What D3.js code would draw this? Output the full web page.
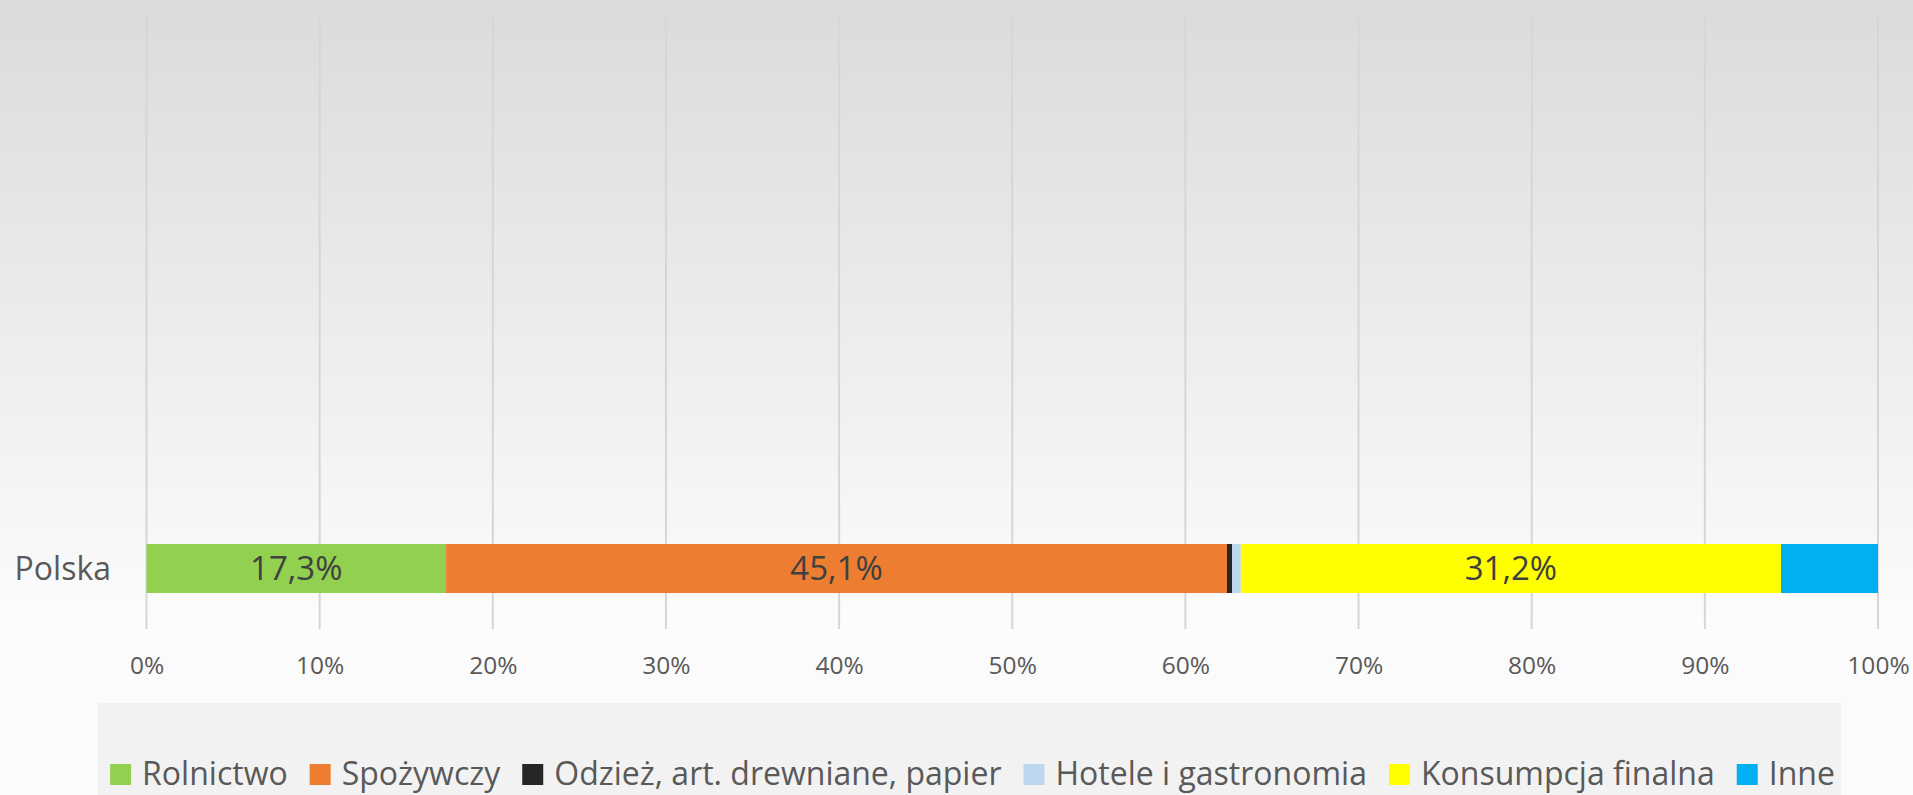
<!DOCTYPE html>
<html><head><meta charset="utf-8">
<script src="https://cdn.jsdelivr.net/npm/d3@7"></script>
<style>html,body{margin:0;padding:0;background:#fcfcfc;overflow:hidden}</style>
</head><body>
<svg id="c" width="1913" height="795"></svg>
<script>
const categories = ["Polska"];
const seriesNames = ["Rolnictwo", "Spożywczy", "Odzież, art. drewniane, papier", "Hotele i gastronomia", "Konsumpcja finalna", "Inne"];
const seriesValues = [17.3, 45.1, 0.3, 0.5, 31.2, 5.6];
const seriesColors = ["#92d050", "#ed7d31", "#262626", "#bdd7ee", "#ffff00", "#00b0f0"];
const tickValues = [0, 10, 20, 30, 40, 50, 60, 70, 80, 90, 100];
const tickLabels = ["0%", "10%", "20%", "30%", "40%", "50%", "60%", "70%", "80%", "90%", "100%"];
const labelMin = 10;

const svg = d3.select("#c");
const W = 1913, H = 795;
const FONT = "'Open Sans', 'Noto Sans', sans-serif";

// background
const defs = svg.append("defs");
const grad = defs.append("linearGradient").attr("id", "bg").attr("x1", 0).attr("y1", 0).attr("x2", 0).attr("y2", 1);
grad.append("stop").attr("offset", "0%").attr("stop-color", "#dbdbdb");
grad.append("stop").attr("offset", "100%").attr("stop-color", "#fdfdfd");
svg.append("rect").attr("x", 0).attr("y", 0).attr("width", W).attr("height", H).attr("fill", "#fbfbfb");
svg.append("rect").attr("x", 0).attr("y", 0).attr("width", W).attr("height", 640).attr("fill", "url(#bg)");

const x = d3.scaleLinear().domain([0, 100]).range([146.5, 1878]);
const y = d3.scaleBand().domain(categories).range([544, 593]).padding(0);
const gridTop = 17, gridBottom = 629;

// gridlines
svg.append("g").selectAll("line").data(tickValues).join("line")
  .attr("x1", d => x(d)).attr("x2", d => x(d))
  .attr("y1", gridTop).attr("y2", gridBottom)
  .attr("stroke", "#d6d6d6").attr("stroke-width", 2);

// tick labels via axis
const axis = d3.axisBottom(x).tickValues(tickValues).tickFormat((d, i) => tickLabels[i]).tickSize(0).tickPadding(0);
const ax = svg.append("g").attr("transform", `translate(0,${657})`).call(axis);
ax.select(".domain").remove();
ax.selectAll("text").attr("font-family", FONT).attr("font-size", 24.5).attr("fill", "#595959")
  .attr("dy", "0.71em");

// stacked bars
const stackData = categories.map(c => {
  const o = { cat: c };
  seriesNames.forEach((s, i) => o[s] = seriesValues[i]);
  return o;
});
const stack = d3.stack().keys(seriesNames)(stackData);
const gBars = svg.append("g");
stack.forEach((layer, i) => {
  layer.forEach(d => {
    gBars.append("rect")
      .attr("x", x(d[0])).attr("width", x(d[1]) - x(d[0]))
      .attr("y", y(d.data.cat)).attr("height", y.bandwidth())
      .attr("fill", seriesColors[i]);
    const v = d[1] - d[0];
    if (v >= labelMin) {
      gBars.append("text")
        .attr("x", (x(d[0]) + x(d[1])) / 2)
        .attr("y", y(d.data.cat) + y.bandwidth() / 2)
        .attr("dy", "0.36em")
        .attr("text-anchor", "middle")
        .attr("font-family", FONT).attr("font-size", 33).attr("fill", "#404040")
        .text(v.toFixed(1).replace(".", ",") + "%");
    }
  });
});

// category labels
svg.append("g").selectAll("text").data(categories).join("text")
  .attr("x", 111).attr("y", d => y(d) + y.bandwidth() / 2).attr("dy", "0.36em")
  .attr("text-anchor", "end")
  .attr("font-family", FONT).attr("font-size", 32).attr("fill", "#595959")
  .text(d => d);

// legend
const boxX = 98, boxY = 703, boxW = 1743;
svg.append("rect").attr("x", boxX).attr("y", boxY).attr("width", boxW).attr("height", H - boxY).attr("fill", "#f2f2f2");
const lg = svg.append("g");
const sq = 21, gapSq = 11, gapItem = 22, baseY = 785;
let cx = 0;
seriesNames.forEach((s, i) => {
  const g = lg.append("g");
  g.append("rect").attr("x", cx).attr("y", baseY - 21).attr("width", sq).attr("height", sq).attr("fill", seriesColors[i]);
  const t = g.append("text").attr("x", cx + sq + gapSq).attr("y", baseY)
    .attr("font-family", FONT).attr("font-size", 32).attr("fill", "#595959").text(s);
  const w = t.node().getComputedTextLength();
  cx += sq + gapSq + w + gapItem;
});
const totalW = cx - gapItem;
lg.attr("transform", `translate(${boxX + (boxW - totalW) / 2 + 3},0)`);
</script>
</body></html>
